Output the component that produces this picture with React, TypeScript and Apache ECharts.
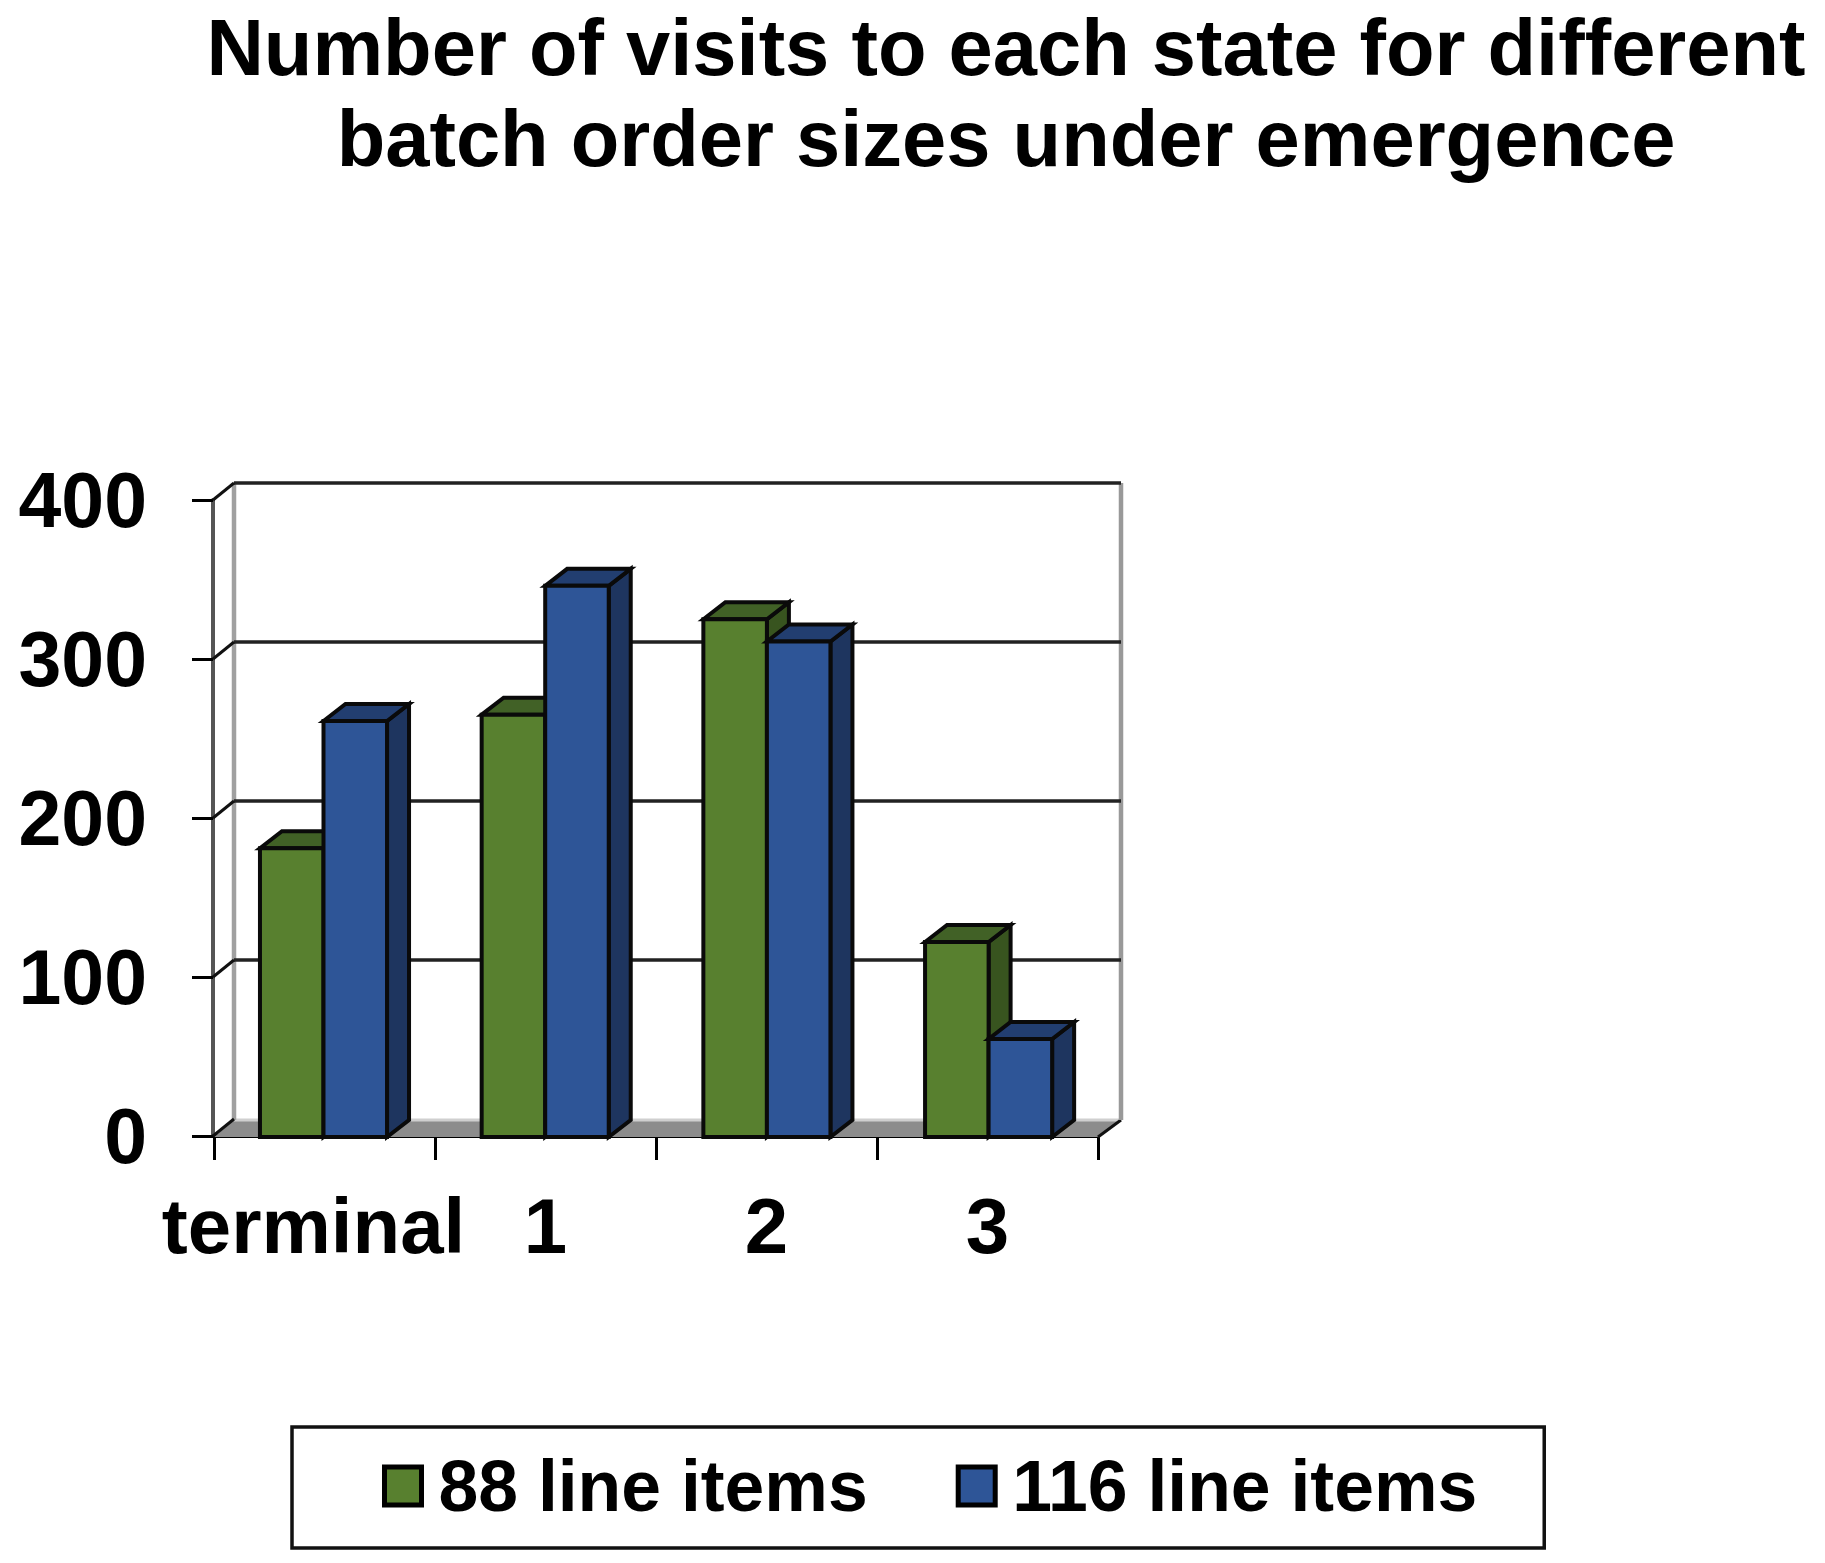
import React, { useEffect, useRef } from "react";
import * as echarts from "echarts";

const titleLines = ["Number of visits to each state for different", "batch order sizes under emergence"];
const categories = ["terminal", "1", "2", "3"];
const items88 = [181, 265, 325, 122];
const items116 = [261, 346, 311, 61];
const yTicks = [0, 100, 200, 300, 400];
const seriesNames = ["88 line items", "116 line items"];

const DX = 22;
const DY = 17;
const WALL_LEFT_DX = 20;
const WALL_RIGHT_DX = 23;
const FONT = '"Liberation Sans", Arial, sans-serif';

const palette = [
  { front: "#58802f", top: "#416126", side: "#38541f" },
  { front: "#2e5597", top: "#223e70", side: "#1e355f" },
];

function barRenderer(seriesIndex: number) {
  const colors = palette[seriesIndex];
  return (_params: any, api: any) => {
    const cat = api.value(0);
    const val = api.value(1);
    const base = api.coord([cat, 0]);
    const head = api.coord([cat, val]);
    const width = api.size([1, 0])[0] * 0.2875;
    const x0 = base[0] - 1 + cat * 0.7 + (seriesIndex - 1) * width;
    const x1 = x0 + width;
    const y0 = base[1] + 1;
    const y1 = head[1];
    const stroke = { stroke: "#0a0a0a", lineWidth: 4, lineJoin: "miter" };
    return {
      type: "group",
      children: [
        {
          type: "polygon",
          shape: { points: [[x1, y1], [x1 + DX, y1 - DY], [x1 + DX, y0 - DY], [x1, y0]] },
          style: { fill: colors.side, ...stroke },
        },
        {
          type: "polygon",
          shape: { points: [[x0, y1], [x0 + DX, y1 - DY], [x1 + DX, y1 - DY], [x1, y1]] },
          style: { fill: colors.top, ...stroke },
        },
        {
          type: "rect",
          shape: { x: x0, y: y1, width: width, height: y0 - y1 },
          style: { fill: colors.front, ...stroke },
        },
      ],
    };
  };
}

function wallRenderer(params: any, api: any) {
  const val = api.value(1);
  const y = api.coord([0, val])[1];
  const left = params.coordSys.x;
  const right = left + params.coordSys.width;
  const wallL = left + WALL_LEFT_DX;
  const wallR = right + WALL_RIGHT_DX;
  const children: any[] = [];
  if (val === 0) {
    const base = y + 1;
    const back = base - DY;
    children.push({
      type: "polygon",
      shape: { points: [[left, base], [right, base], [wallR, back], [wallL, back]] },
      style: { fill: "#8c8c8c", stroke: "none" },
    });
    children.push({
      type: "line",
      shape: { x1: wallL, y1: back, x2: wallR, y2: back },
      style: { stroke: "#cfcfcf", lineWidth: 3 },
    });
    children.push({
      type: "line",
      shape: { x1: right, y1: base, x2: wallR, y2: back },
      style: { stroke: "#111", lineWidth: 3 },
    });
    const topY = api.coord([0, yTicks[yTicks.length - 1]])[1] - DY;
    children.push({
      type: "line",
      shape: { x1: wallL, y1: topY, x2: wallL, y2: back },
      style: { stroke: "#a0a0a0", lineWidth: 4.5 },
    });
    children.push({
      type: "line",
      shape: { x1: wallR, y1: topY, x2: wallR, y2: back },
      style: { stroke: "#999", lineWidth: 4.5 },
    });
  } else {
    children.push({
      type: "line",
      shape: { x1: wallL, y1: y - DY, x2: wallR, y2: y - DY },
      style: { stroke: "#222", lineWidth: 3.5 },
    });
  }
  children.push({
    type: "line",
    shape: { x1: left - 1, y1: y, x2: wallL, y2: y - DY },
    style: { stroke: "#111", lineWidth: 3 },
  });
  return { type: "group", children };
}

export default function App() {
  const ref = useRef<HTMLDivElement>(null);
  useEffect(() => {
    const chart = echarts.init(ref.current!, undefined, { renderer: "svg" });
    chart.setOption({
      animation: false,
      backgroundColor: "#fff",
      title: {
        text: titleLines.join("\n"),
        left: 1001,
        top: -3,
        textAlign: "center",
        textStyle: { fontFamily: FONT, fontSize: 79.5, fontWeight: "bold", color: "#000", lineHeight: 91 },
      },
      grid: { left: 214, top: 500, width: 884, height: 636, containLabel: false },
      legend: {
        left: 292,
        top: 1427,
        orient: "horizontal",
        padding: [23, 67, 26, 90],
        borderColor: "#111",
        borderWidth: 3.5,
        backgroundColor: "#fff",
        itemWidth: 37,
        itemHeight: 38,
        itemGap: 88,
        itemStyle: { borderColor: "#000", borderWidth: 5 },
        data: seriesNames.map((name) => ({ name, icon: "rect" })),
        textStyle: {
          fontFamily: FONT,
          fontSize: 71.5,
          fontWeight: "bold",
          color: "#000",
          padding: [0, 0, 0, 12],
        },
      },
      xAxis: {
        type: "category",
        data: [
          { value: categories[0], textStyle: { padding: [0, 22, 0, 0] } },
          ...categories.slice(1),
        ],
        boundaryGap: true,
        axisLine: { show: true, lineStyle: { color: "#000", width: 4 } },
        axisTick: { show: true, length: 24, alignWithLabel: false, lineStyle: { color: "#000", width: 3 } },
        axisLabel: {
          interval: 0,
          margin: 51,
          fontFamily: FONT,
          fontSize: 78,
          fontWeight: "bold",
          color: "#000",
        },
      },
      yAxis: {
        type: "value",
        min: 0,
        max: 400,
        interval: 100,
        offset: 1,
        splitLine: { show: false },
        axisLine: { show: true, lineStyle: { color: "#555", width: 4 } },
        axisTick: { show: true, length: 21, lineStyle: { color: "#000", width: 3 } },
        axisLabel: {
          margin: 66,
          fontFamily: FONT,
          fontSize: 77,
          fontWeight: "bold",
          color: "#000",
        },
      },
      series: [
        {
          type: "custom",
          silent: true,
          z: 1,
          renderItem: wallRenderer,
          encode: { x: 0, y: 1 },
          data: yTicks.map((t) => [0, t]),
        },
        {
          type: "custom",
          name: seriesNames[0],
          z: 3,
          itemStyle: { color: palette[0].front },
          renderItem: barRenderer(0),
          encode: { x: 0, y: 1 },
          data: items88.map((v, i) => [i, v]),
        },
        {
          type: "custom",
          name: seriesNames[1],
          z: 4,
          itemStyle: { color: palette[1].front },
          renderItem: barRenderer(1),
          encode: { x: 0, y: 1 },
          data: items116.map((v, i) => [i, v]),
        },
      ],
    });
    return () => chart.dispose();
  }, []);
  return (
    <div
      ref={ref}
      style={{ position: "absolute", left: 0, top: 0, width: 1825, height: 1563 }}
    />
  );
}
